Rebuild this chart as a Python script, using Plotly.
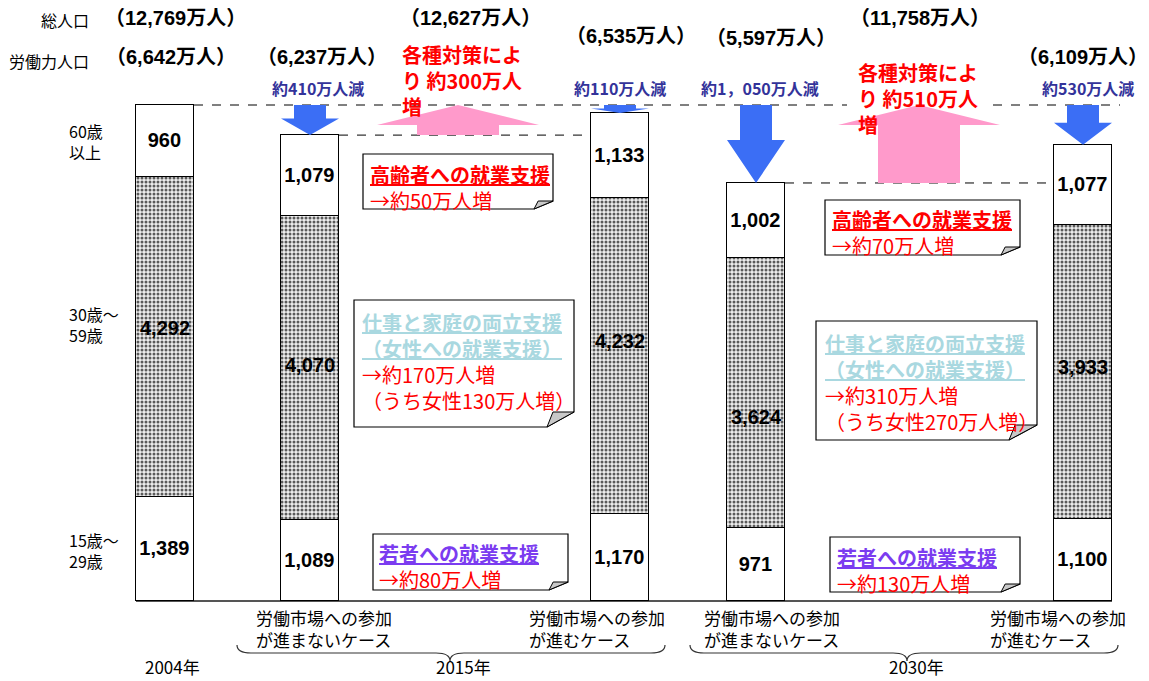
import plotly.graph_objects as go

# ---------------- data ----------------
cases = ["2004年", "2015年・進まない", "2015年・進む", "2030年・進まない", "2030年・進む"]
age_15_29 = [1389, 1089, 1170, 971, 1100]
age_30_59 = [4292, 4070, 4232, 3624, 3933]
age_60_up = [960, 1079, 1133, 1002, 1077]

labor_labels = ["（6,642万人）", "（6,237万人）", "（6,535万人）", "（5,597万人）", "（6,109万人）"]
total_pop_labels = ["（12,769万人）", "（12,627万人）", "（11,758万人）"]
decrease_labels = ["約410万人減", "約110万人減", "約1，050万人減", "約530万人減"]
policy_labels = ["各種対策によ<br>り 約300万人<br>増", "各種対策によ<br>り 約510万人<br>増"]
age_labels = ["60歳<br>以上", "30歳～<br>59歳", "15歳～<br>29歳"]
case_labels = ["労働市場への参加<br>が進まないケース", "労働市場への参加<br>が進むケース"]
year_labels = ["2004年", "2015年", "2030年"]
senior_notes = ["→約50万人増", "→約70万人増"]
women_notes = ["→約170万人増<br>（うち女性130万人増）", "→約310万人増<br>（うち女性270万人増）"]
youth_notes = ["→約80万人増", "→約130万人増"]

# ---------------- layout geometry (pixels) ----------------
W, H = 1149, 681
OFF = 8                    # page body margin
BASE = 601                 # pixel row of zero
K = 496 / 6641             # pixels per 万人
BAR_X = [165, 310, 620, 756, 1083]
BAR_W = 58
MID_LABEL_DY = [-9, -3, -15, 24, -5]   # pixel nudges of the middle-segment labels

def Y(py):
    return (BASE - py) / K

def PY(v):
    return BASE - v * K

totals = [a + b + c for a, b, c in zip(age_15_29, age_30_59, age_60_up)]

JP = "Noto Sans CJK JP"
NUM = "Liberation Sans, Arial, Noto Sans CJK JP"
RED = "#FF0000"
BLUE_T = "#33339A"
BLUE_A = "#3B6EF5"
PINK = "#FF9ACB"
LBLUE = "#A9D8E0"
PURPLE = "#7B3CF0"
BAR_FONT = dict(family=NUM, size=20, color="black", weight="bold")

fig = go.Figure()
common = dict(x=BAR_X, width=BAR_W, textposition="inside",
              insidetextanchor="middle", constraintext="none",
              textfont=BAR_FONT, hoverinfo="skip", showlegend=False)
fig.add_trace(go.Bar(y=age_15_29, name="15歳～29歳", texttemplate="%{y:,}",
                     marker=dict(color="white", line=dict(color="black", width=1.2)), **common))
fig.add_trace(go.Bar(y=age_30_59, name="30歳～59歳", texttemplate="",
                     marker=dict(color="#e4e4e4", line=dict(color="black", width=1.2),
                                 pattern=dict(shape=".", fgcolor="#5a5a5a", bgcolor="#eeeeee",
                                              size=4, solidity=0.45, fillmode="replace")),
                     **common))
fig.add_trace(go.Bar(y=age_60_up, name="60歳以上", texttemplate="%{y:,}",
                     marker=dict(color="white", line=dict(color="black", width=1.2)), **common))

shapes = []
def line(x0, x1, v, dash="dash", color="black", width=1):
    shapes.append(dict(type="line", xref="x", yref="y", x0=x0, x1=x1, y0=v, y1=v,
                       line=dict(color=color, width=width, dash=dash), layer="above"))

def path(pts, fill, lc=None, lw=0):
    d = "M " + " L ".join(f"{x:.2f},{Y(py):.3f}" for x, py in pts) + " Z"
    shapes.append(dict(type="path", xref="x", yref="y", path=d, fillcolor=fill,
                       line=dict(color=lc if lc else fill, width=lw), layer="above"))

# baseline
shapes.append(dict(type="line", xref="x", yref="y", x0=BAR_X[0] - BAR_W / 2, x1=BAR_X[4] + BAR_W / 2,
                   y0=0, y1=0, line=dict(color="#555555", width=2), layer="below"))
# dashed guide lines
line(BAR_X[0] + BAR_W / 2, 847, totals[0])
line(993, 1120, totals[0])
line(BAR_X[1] + BAR_W / 2, BAR_X[2] - BAR_W / 2, totals[1])
line(BAR_X[3] + BAR_W / 2, BAR_X[4] - BAR_W / 2, totals[3])

# blue decrease arrows
for i in range(1, 5):
    pt, pb = PY(totals[0]), PY(totals[i])
    L = pb - pt
    hl = 0.55 * L
    xc = BAR_X[i]
    path([(xc - 16, pt), (xc + 16, pt), (xc + 16, pb - hl), (xc + 29, pb - hl),
          (xc, pb), (xc - 29, pb - hl), (xc - 16, pb - hl)], BLUE_A)

# pink increase arrows
for xc, i in [(458, 1), (919, 3)]:
    pt, pb = PY(totals[0]), PY(totals[i])
    hl = 20
    path([(xc - 41, pb), (xc + 41, pb), (xc + 41, pt + hl), (xc + 81, pt + hl),
          (xc, pt), (xc - 81, pt + hl), (xc - 41, pt + hl)], PINK)

# note boxes with folded corner
def note(x0, y0, x1, y1, fw, fh):
    path([(x0, y0), (x1, y0), (x1, y1 - fh), (x1 - fw, y1), (x0, y1)], "white", "black", 1.2)
    path([(x1 - fw, y1), (x1, y1 - fh), (x1 - fw * 0.78, y1 - fh)], "#c8c8c8", "black", 1)

note(363, 154, 553, 209, 19, 8)
note(354, 300, 574, 427, 27, 15)
note(373, 534, 568, 590, 19, 8)
note(825, 200, 1020, 255, 19, 8)
note(816, 321, 1037, 440, 28, 15)
note(830, 537, 1020, 592, 19, 8)

# braces
def brace(xl, xr, xm, ytop=645, ymid=653, ytip=661):
    r = 14
    d = (f"M {xl},{Y(ytop)} Q {xl},{Y(ymid)} {xl + r},{Y(ymid)} L {xm - r},{Y(ymid)} "
         f"Q {xm},{Y(ymid)} {xm},{Y(ytip)} Q {xm},{Y(ymid)} {xm + r},{Y(ymid)} "
         f"L {xr - r},{Y(ymid)} Q {xr},{Y(ymid)} {xr},{Y(ytop)}")
    shapes.append(dict(type="path", xref="x", yref="y", path=d,
                       line=dict(color="#333333", width=1.2), layer="above"))

brace(237, 665, 450)
brace(690, 1118, 907)

ann = []
def text(t, x, py, size, color="black", bold=False, family=JP, xa="center", ya="middle", align="center"):
    ann.append(dict(text=t, x=x, y=Y(py), xref="x", yref="y", showarrow=False,
                    xanchor=xa, yanchor=ya, align=align,
                    font=dict(family=family, size=size, color=color,
                              weight="bold" if bold else "normal")))

# middle-segment value labels (from the data, nudged like the original)
for x, lo, v, dy in zip(BAR_X, age_15_29, age_30_59, MID_LABEL_DY):
    ann.append(dict(text=f"{v:,}", x=x, y=lo + v / 2 - dy / K, xref="x", yref="y",
                    showarrow=False, xanchor="center", yanchor="middle", font=BAR_FONT))

# header row labels
text("総人口", 91, 20, 16, xa="right")
text("労働力人口", 91, 61, 16, xa="right")
for t, x in zip(total_pop_labels, [175, 470, 920]):
    text(t, x, 18, 20, bold=True, family=NUM)
for t, (x, py) in zip(labor_labels, [(171, 57), (322, 57), (631, 36), (771, 38), (1083, 57)]):
    text(t, x, py, 20, bold=True, family=NUM)
for t, x in zip(decrease_labels, [318, 620, 760, 1088]):
    text(t, x, 88, 16, color=BLUE_T, bold=True)
for t, (x, py) in zip(policy_labels, [(400, 38), (856, 56)]):
    text(t, x, py, 20, color=RED, bold=True, xa="left", ya="top", align="left")

# age labels
for t, py in zip(age_labels, [141, 324, 550]):
    text(t, 67, py, 16, xa="left", align="left")

# notes text
def note_text(x, py, head, headcolor, body):
    t = f"<span style='color:{headcolor}'><b><u>{head}</u></b></span><br>{body}"
    ann.append(dict(text=t, x=x, y=Y(py), xref="x", yref="y", showarrow=False,
                    xanchor="left", yanchor="top", align="left",
                    font=dict(family=JP, size=20, color=RED)))

note_text(368, 158, "高齢者への就業支援", RED, senior_notes[0])
note_text(360, 306, "仕事と家庭の両立支援<br>（女性への就業支援）", LBLUE, women_notes[0])
note_text(377, 537, "若者への就業支援", PURPLE, youth_notes[0])
note_text(830, 203, "高齢者への就業支援", RED, senior_notes[1])
note_text(823, 327, "仕事と家庭の両立支援<br>（女性への就業支援）", LBLUE, women_notes[1])
note_text(835, 541, "若者への就業支援", PURPLE, youth_notes[1])

# bottom labels
for t, x in zip(case_labels * 2, [254, 527, 702, 988]):
    text(t, x, 603, 17, xa="left", ya="top", align="left")
for t, x in zip(year_labels, [172, 463, 916]):
    text(t, x, 666, 17)

fig.update_layout(
    width=W - OFF, height=H - OFF, autosize=False,
    margin=dict(l=0, r=0, t=0, b=0),
    paper_bgcolor="white", plot_bgcolor="white",
    barmode="stack", bargap=0,
    xaxis=dict(range=[OFF, W], visible=False, fixedrange=True),
    yaxis=dict(range=[Y(H), Y(OFF)], visible=False, fixedrange=True),
    shapes=shapes, annotations=ann,
)
fig.write_html("out.html")
